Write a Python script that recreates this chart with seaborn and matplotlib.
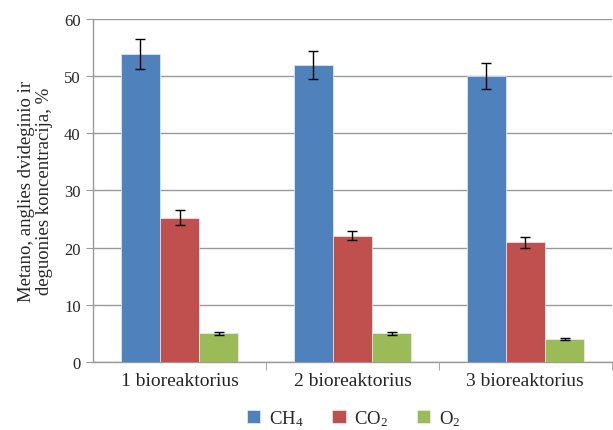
import pandas as pd
import matplotlib.pyplot as plt
import seaborn as sns

categories = ['1 bioreaktorius', '2 bioreaktorius', '3 bioreaktorius']
gases = ['CH$_4$', 'CO$_2$', 'O$_2$']
ch4 = [53.8, 51.9, 50.0]
co2 = [25.2, 22.1, 20.9]
o2 = [5.0, 5.0, 4.0]
ch4_err = [2.6, 2.5, 2.2]
co2_err = [1.3, 0.8, 1.0]
o2_err = [0.25, 0.25, 0.2]
colors = ['#4F81BD', '#C0504D', '#9BBB59']

rows = []
for gas, vals, errs in zip(gases, [ch4, co2, o2], [ch4_err, co2_err, o2_err]):
    for cat, v, e in zip(categories, vals, errs):
        rows.append({'cat': cat, 'gas': gas, 'val': v, 'err': e})
df = pd.DataFrame(rows)

sns.set_style('white')
plt.rcParams['font.family'] = ['Liberation Serif', 'DejaVu Serif']
plt.rcParams['mathtext.default'] = 'regular'

fig = plt.figure(figsize=(6.13, 4.31), dpi=100)
ax = fig.add_axes([0.152, 0.158, 0.846, 0.796])

sns.barplot(data=df, x='cat', y='val', hue='gas', palette=colors,
            saturation=1, width=0.68, gap=0, errorbar=None, ax=ax,
            edgecolor='#e8eef6', linewidth=0.5, zorder=3)

# error bars on the bar centres
for patch, (_, r) in zip(ax.patches, df.iterrows()):
    cx = patch.get_x() + patch.get_width() / 2
    ax.errorbar(cx, patch.get_height(), yerr=r['err'], color='black',
                capsize=3.5, elinewidth=1, capthick=1, zorder=4)

ax.set_ylim(0, 60)
ax.set_xlim(-0.5, 2.5)
ax.set_yticks(range(0, 61, 10))
ax.yaxis.grid(True, color='#999999', linewidth=1)
ax.set_axisbelow(True)
for s in ['top', 'right']:
    ax.spines[s].set_visible(False)
for s in ['left', 'bottom']:
    ax.spines[s].set_color('#999999')
    ax.spines[s].set_linewidth(1)

ax.tick_params(axis='y', length=5, color='#999999', direction='out', left=True,
               labelsize=12, pad=4)
ax.tick_params(axis='x', length=0, labelsize=14, pad=7)
ax.set_xticks([0.5, 1.5, 2.5], minor=True)
ax.tick_params(axis='x', which='minor', length=6, color='#999999', bottom=True)

ax.set_xlabel('')
ax.set_ylabel('Metano, anglies dvideginio ir\ndeguonies koncentracija, %',
              fontsize=13.5, labelpad=8, linespacing=1.1)

handles, labels = ax.get_legend_handles_labels()
ax.get_legend().remove()
fig.legend(handles, labels, loc='lower center', bbox_to_anchor=(0.577, -0.034),
           ncol=3, frameon=False, fontsize=13.5, handlelength=0.7,
           handleheight=0.7, columnspacing=1.55, handletextpad=0.45)

fig.savefig('out.png', dpi=100)
